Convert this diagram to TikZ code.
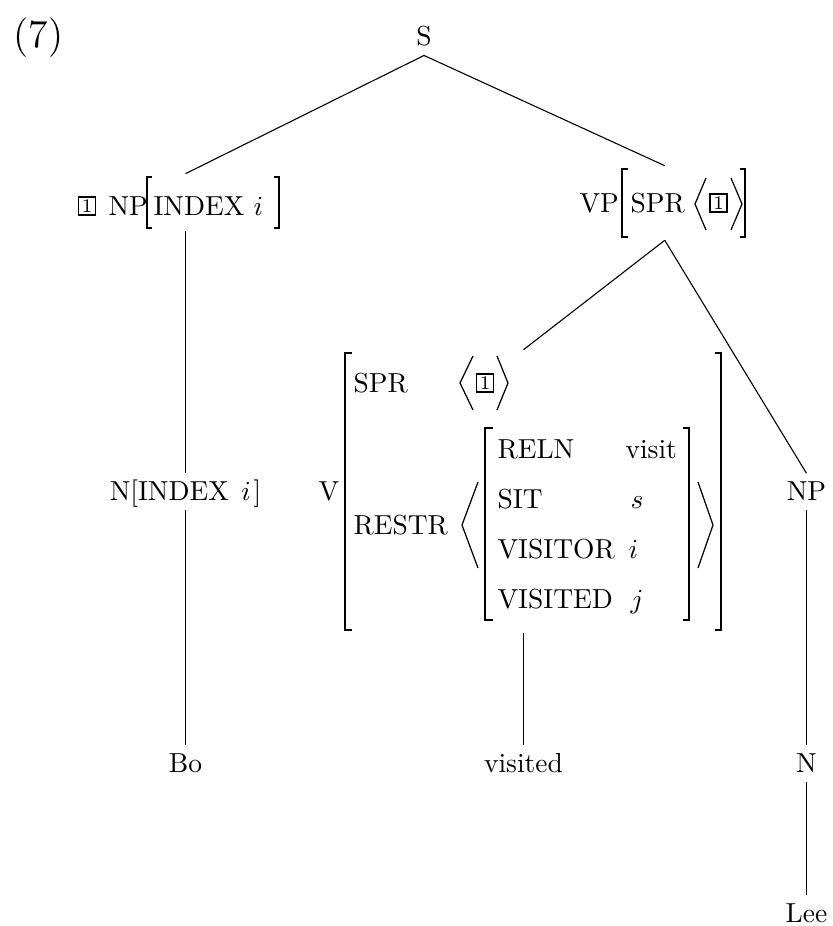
\documentclass[tikz,border=0pt]{standalone}
\usetikzlibrary{fit}
\begin{document}
\begin{tikzpicture}[x=0.3636pt,y=-0.3636pt,
  txt/.style={inner sep=0pt, anchor=base west},
  cat/.style={inner xsep=0pt, inner ysep=2.6pt, text height=6.9pt, text depth=1pt, anchor=base},
  branch/.style={line width=0.4pt},
  brk/.style={line width=0.7pt},
  ang/.style={line width=0.45pt, line join=miter},
  tagbox/.style={draw, line width=0.6pt, inner sep=0pt, minimum width=6.2pt, minimum height=6.5pt, font=\scriptsize},
  grp/.style={inner xsep=0pt, inner ysep=1pt}]
\useasboundingbox (0,0) rectangle (832,926);

\node[txt, font=\Large] (ex) at (13,47) {(7)};
\node[cat] (S) at (424,45) {S};

% NP [INDEX i]
\node[tagbox] (tagNP) at (87,206) {1};
\node[txt] (npcat) at (108,215) {NP};
\node[txt] (npidx) at (153,215) {INDEX $i$};
\coordinate (npL) at (147,177);
\coordinate (npR) at (279,228);
\draw[brk] (152,177) -| (147,228) -- (152,228);
\draw[brk] (274,177) -| (279,228) -- (274,228);
\node[grp, fit=(tagNP)(npL)(npR)] (NP) {};

% VP [SPR <1>]
\node[txt] (vpcat) at (579,212) {VP};
\node[txt] (vpspr) at (630,212) {SPR};
\draw[brk] (628,169) -| (622,237) -- (628,237);
\draw[ang] (706,178) -- (695,204) -- (706,230);
\node[tagbox] (tagVP) at (718.5,203) {1};
\draw[ang] (731,178) -- (742,204) -- (731,230);
\draw[brk] (740,169) -| (745,237) -- (740,237);
\coordinate (vpL) at (622,169);
\coordinate (vpR) at (745,237);
\node[grp, fit=(vpcat)(vpL)(vpR)] (VP) {};

% V AVM
\node[txt] (V) at (318,500) {V};
\draw[brk] (352,353) -| (345,630) -- (352,630);
\node[txt] (spr) at (353,392) {SPR};
\draw[ang] (473,356) -- (460,383) -- (473,410);
\node[tagbox] (tagV) at (485,383) {1};
\draw[ang] (497,356) -- (508,383) -- (497,410);
\node[txt] (restr) at (353,534) {RESTR};
\draw[ang] (478,482) -- (462,525) -- (478,568);
\draw[brk] (493,428) -| (485,620) -- (493,620);
\node[txt] (reln) at (497,458) {RELN};
\node[txt] (relnv) at (625,458) {visit};
\node[txt] (sit) at (497,508) {SIT};
\node[txt] (sitv) at (630,508) {$s$};
\node[txt] (vsr) at (497,558) {VISITOR};
\node[txt] (vsrv) at (628,558) {$i$};
\node[txt] (vsd) at (497,608) {VISITED};
\node[txt] (vsdv) at (630,608) {$j$};
\draw[brk] (683,428) -| (689,620) -- (683,620);
\draw[ang] (698,482) -- (713,525) -- (698,568);
\draw[brk] (715,353) -| (721,630) -- (715,630);
\coordinate (avL) at (345,353);
\coordinate (avR) at (721,630);
\node[grp, fit=(V)(avL)(avR)] (AVM) {};

% lower labels
\node[cat] (Nidx) at (185.5,500) {N[INDEX\hspace{4.5pt}$i$\hspace{1pt}]};
\node[cat] (NPr) at (806.5,500) {NP};
\node[cat] (Bo) at (185.5,772) {Bo};
\node[cat] (visited) at (523.5,772) {visited};
\node[cat] (Nr) at (806.5,772) {N};
\node[cat] (Lee) at (806.5,922) {Lee};

% branches
\draw[branch] (S.south) -- (NP.north -| Nidx.north);
\draw[branch] (S.south) -- ([xshift=1pt]VP.north);
\draw[branch] ([xshift=1pt]VP.south) -- (AVM.north -| visited.north);
\draw[branch] ([xshift=1pt]VP.south) -- (NPr.north);
\draw[branch] (NP.south -| Nidx.north) -- (Nidx.north);
\draw[branch] (Nidx.south) -- (Bo.north);
\draw[branch] (AVM.south -| visited.north) -- (visited.north);
\draw[branch] (NPr.south) -- (Nr.north);
\draw[branch] (Nr.south) -- (Lee.north);
\end{tikzpicture}
\end{document}
